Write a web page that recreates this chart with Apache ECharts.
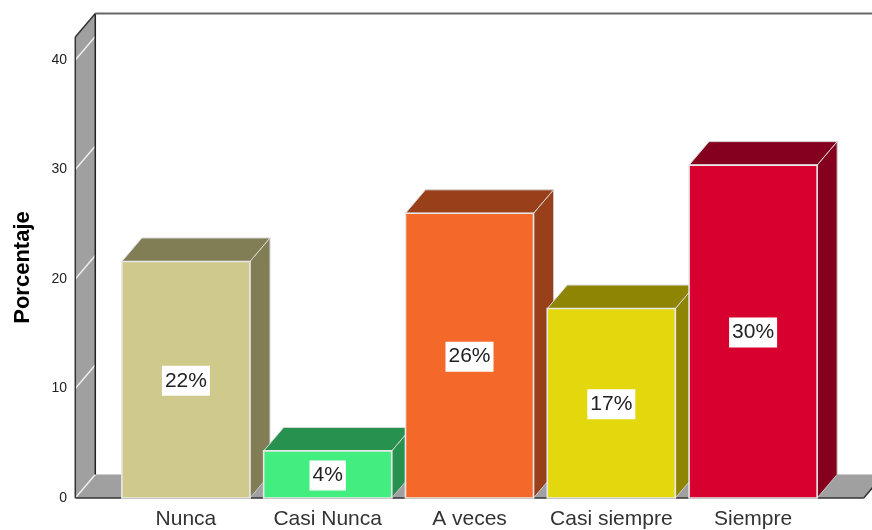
<!DOCTYPE html>
<html>
<head>
<meta charset="utf-8">
<style>html,body{margin:0;padding:0;background:#fff;overflow:hidden}#c{width:872px;height:530px}</style>
<script src="https://cdn.jsdelivr.net/npm/echarts@6/dist/echarts.min.js"></script>
</head>
<body>
<div id="c"></div>
<script>
var categories = ['Nunca', 'Casi Nunca', 'A veces', 'Casi siempre', 'Siempre'];
var values = [21.6, 4.3, 26.0, 17.3, 30.4];
var percentLabels = ['22%', '4%', '26%', '17%', '30%'];
var frontColors = ['#cfc98c', '#41ee7f', '#f4682a', '#e3d80e', '#d7002f'];
var sideColors = ['#817d55', '#27924f', '#993f1a', '#8e8505', '#85001f'];
var yTicks = [0, 10, 20, 30, 40];
var yMax = 42.1;
var depthX = 20, depthY = 23.5;
var barRatio = 0.903, wallPad = 0.78;

var chart = echarts.init(document.getElementById('c'), null, {renderer: 'canvas'});

function poly(points, fill, stroke, z2) {
  return {type: 'polygon', shape: {points: points}, z2: z2 || 0,
    style: {fill: fill, stroke: stroke || null, lineWidth: stroke ? 1 : 0}};
}
function line(a, b, color, w, z2) {
  return {type: 'line', shape: {x1: a[0], y1: a[1], x2: b[0], y2: b[1]}, z2: z2 || 1,
    style: {stroke: color, lineWidth: w, fill: null}};
}

function renderFrame(params, api) {
  var band = api.size([1, 0])[0];
  var first = api.coord([0, 0]);
  var last = api.coord([categories.length - 1, 0]);
  var xL = first[0] - wallPad * band, xR = last[0] + wallPad * band;
  var y0 = first[1], yT = api.coord([0, yMax])[1];
  var kids = [
    poly([[xL, y0], [xL + depthX, y0 - depthY], [xL + depthX, yT - depthY], [xL, yT]], '#a0a0a0'),
    poly([[xL, y0], [xL + depthX, y0 - depthY], [xR + depthX, y0 - depthY], [xR, y0]], '#a0a0a0')
  ];
  yTicks.forEach(function (t) {
    var y = api.coord([0, t])[1];
    kids.push(line([xL, y], [xL + depthX, y - depthY], '#f0f0f0', 1.4, 1));
  });
  kids.push(line([xL, y0], [xL, yT], '#333', 1.5, 2));
  kids.push(line([xL, yT], [xL + depthX, yT - depthY], '#333', 1.5, 2));
  kids.push(line([xL + depthX, yT - depthY], [xL + depthX, y0 - depthY], '#222', 1.5, 2));
  kids.push(line([xL + depthX, yT - depthY], [xR + depthX + 20, yT - depthY], '#666', 2, 2));
  kids.push(line([xL, y0], [xR, y0], '#333', 1.5, 2));
  kids.push(line([xR, y0], [xR + depthX, y0 - depthY], '#333', 1.5, 2));
  return {type: 'group', children: kids};
}

function renderBar(params, api) {
  var i = api.value(0), v = api.value(1);
  var band = api.size([1, 0])[0];
  var w = band * barRatio;
  var base = api.coord([i, 0]);
  var top = api.coord([i, v]);
  var l = base[0] - w / 2, r = base[0] + w / 2, b = base[1], t = top[1];
  var edge = '#e8e8e8';
  return {type: 'group', children: [
    poly([[r, b], [r + depthX, b - depthY], [r + depthX, t - depthY], [r, t]], sideColors[i], '#c8c8c8'),
    poly([[l, t], [l + depthX, t - depthY], [r + depthX, t - depthY], [r, t]], sideColors[i], '#d8d8d8'),
    {type: 'rect', shape: {x: l, y: t, width: w, height: b - t},
      style: {fill: frontColors[i], stroke: edge, lineWidth: 1.6}, z2: 2},
    {type: 'text', z2: 5, x: base[0], y: (b + t) / 2 + 1,
      style: {text: percentLabels[i], fill: '#222', font: '21px "Liberation Sans", Arial, sans-serif',
        align: 'center', verticalAlign: 'middle',
        backgroundColor: '#fff', padding: [5, 3, 4, 3]}}
  ]};
}

chart.setOption({
  animation: false,
  backgroundColor: '#fff',
  grid: {left: 115, right: 48, top: 37, bottom: 32, containLabel: false, outerBoundsMode: 'none'},
  xAxis: {
    type: 'category', data: categories,
    axisLine: {show: false}, axisTick: {show: false}, splitLine: {show: false},
    axisLabel: {color: '#333', fontFamily: '"Liberation Sans", Arial, sans-serif', fontSize: 21, margin: 11, interval: 0}
  },
  yAxis: {
    type: 'value', min: 0, max: yMax, interval: 10,
    name: 'Porcentaje', nameLocation: 'middle', nameRotate: 90, nameGap: 81,
    nameTextStyle: {color: '#000', fontFamily: '"Liberation Sans", Arial, sans-serif', fontWeight: 'bold', fontSize: 22},
    axisLine: {show: false}, axisTick: {show: false}, splitLine: {show: false},
    axisLabel: {color: '#222', fontFamily: '"Liberation Sans", Arial, sans-serif', fontSize: 14, margin: 48,
      showMaxLabel: false, padding: [4, 0, 0, 0],
      formatter: function (v) { return yTicks.indexOf(v) >= 0 ? String(v) : ''; }}
  },
  series: [
    {type: 'custom', clip: false, z: 1, silent: true, renderItem: renderFrame, data: [[0, 0]], encode: {x: 0, y: 1}},
    {type: 'custom', clip: false, z: 2, silent: true, renderItem: renderBar,
      data: values.map(function (v, i) { return [i, v]; }), encode: {x: 0, y: 1}}
  ]
});
</script>
</body>
</html>
